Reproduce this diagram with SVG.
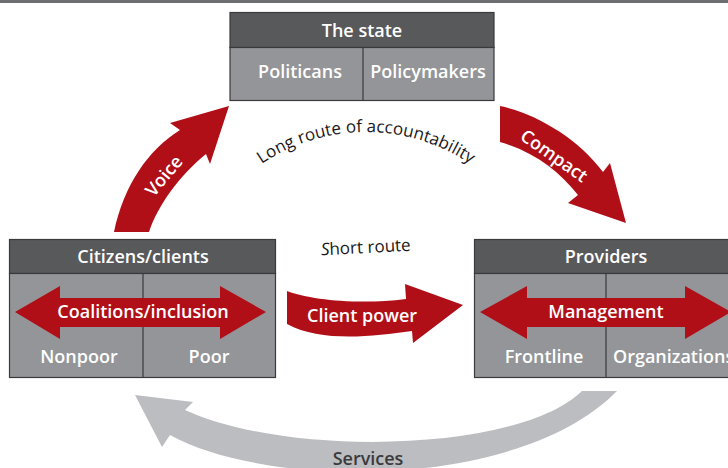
<svg xmlns="http://www.w3.org/2000/svg" width="728" height="468" viewBox="0 0 728 468">
  <style>
    .hdr { fill: #58595b; stroke: #3a3a3c; stroke-width: 1.2; }
    .body { fill: #939598; stroke: #3a3a3c; stroke-width: 1.2; }
    .div { stroke: #3a3a3c; stroke-width: 1.2; }
    .lbl { font-family: "Open Sans", "Liberation Sans", sans-serif; font-weight: 600; font-size: 18px; fill: #ffffff; text-anchor: middle; }
    .red { fill: #b10f18; }
    .grey { fill: #bcbdc0; }
    .note { font-family: "Open Sans", "Liberation Sans", sans-serif; font-size: 17px; fill: #1a1718; }
    .dark { font-family: "Open Sans", "Liberation Sans", sans-serif; font-weight: 600; font-size: 18px; fill: #3a3a3c; text-anchor: middle; }
  </style>
  <defs>
    <path id="longArc" d="M 180,318 A 186,186 0 0 1 552,318"/>
  </defs>

  <rect x="0" y="0" width="728" height="3" fill="#6d6e71"/>

  <!-- The state -->
  <g id="state">
    <rect class="hdr" x="230" y="12.5" width="264" height="35"/>
    <rect class="body" x="230" y="47.5" width="264" height="53"/>
    <line class="div" x1="363" y1="47.5" x2="363" y2="100.5"/>
    <text class="lbl" x="362" y="37">The state</text>
    <text class="lbl" x="300" y="78">Politicans</text>
    <text class="lbl" x="428" y="78">Policymakers</text>
  </g>

  <!-- Citizens / clients -->
  <g id="citizens">
    <rect class="hdr" x="9.5" y="239.5" width="266" height="34"/>
    <rect class="body" x="9.5" y="273.5" width="266" height="104"/>
    <line class="div" x1="143" y1="273.5" x2="143" y2="377.5"/>
    <text class="lbl" x="143" y="263">Citizens/clients</text>
    <path class="red" d="M15,312 L60,286 L60,298 L220,298 L220,286 L266,312 L220,339 L220,327 L60,327 L60,339 Z"/>
    <text class="lbl" x="143" y="318">Coalitions/inclusion</text>
    <text class="lbl" x="79" y="363">Nonpoor</text>
    <text class="lbl" x="209" y="363">Poor</text>
  </g>

  <!-- Providers -->
  <g id="providers">
    <rect class="hdr" x="474.5" y="239.5" width="266" height="34"/>
    <rect class="body" x="474.5" y="273.5" width="266" height="104"/>
    <line class="div" x1="606" y1="273.5" x2="606" y2="377.5"/>
    <text class="lbl" x="606" y="263">Providers</text>
    <path class="red" d="M480,312 L527,286 L527,298 L685,298 L685,286 L731,312 L685,339 L685,327 L527,327 L527,339 Z"/>
    <text class="lbl" x="606" y="318">Management</text>
    <text class="lbl" x="544" y="363">Frontline</text>
    <text class="lbl" x="613" y="363" style="text-anchor:start">Organizations</text>
  </g>

  <!-- Relationships -->
  <g id="connectors">
    <!-- Voice -->
    <path class="red" d="M114,232 C124,185 148,150 180,130 L170,123 L229,106 L210,164 L206,154 C180,175 158,205 149,232 Z"/>
    <text class="lbl" transform="translate(164,176) rotate(-50)" y="6">Voice</text>

    <!-- Compact -->
    <path class="red" d="M500,106 C535,113 578,138 603,172 L610,163 L626,223 L568,203 L578,195 C560,172 535,152 500,142 Z"/>
    <text class="lbl" transform="translate(554,156) rotate(35)" y="6">Compact</text>

    <!-- Long route label -->
    <text class="note"><textPath href="#longArc" startOffset="50%" text-anchor="middle">Long route of accountability</textPath></text>

    <!-- Short route label and client power -->
    <text class="note" transform="translate(366,253) rotate(-3)" text-anchor="middle"><tspan font-style="italic">S</tspan>hort route</text>
    <path class="red" d="M287,291 C310,300 360,305 406,299 L405,284 L463,305 L413,343 L412,331 C370,337 320,342 287,324 Z"/>
    <text class="lbl" x="362" y="322">Client power</text>

    <!-- Services -->
    <path class="grey" d="M582,391 L617,391 C520,490 270,490 170,435 L162,447 L135,395 L193,402 L185,410 C290,458 520,452 582,391 Z"/>
    <text class="dark" x="368" y="465">Services</text>
  </g>
</svg>
